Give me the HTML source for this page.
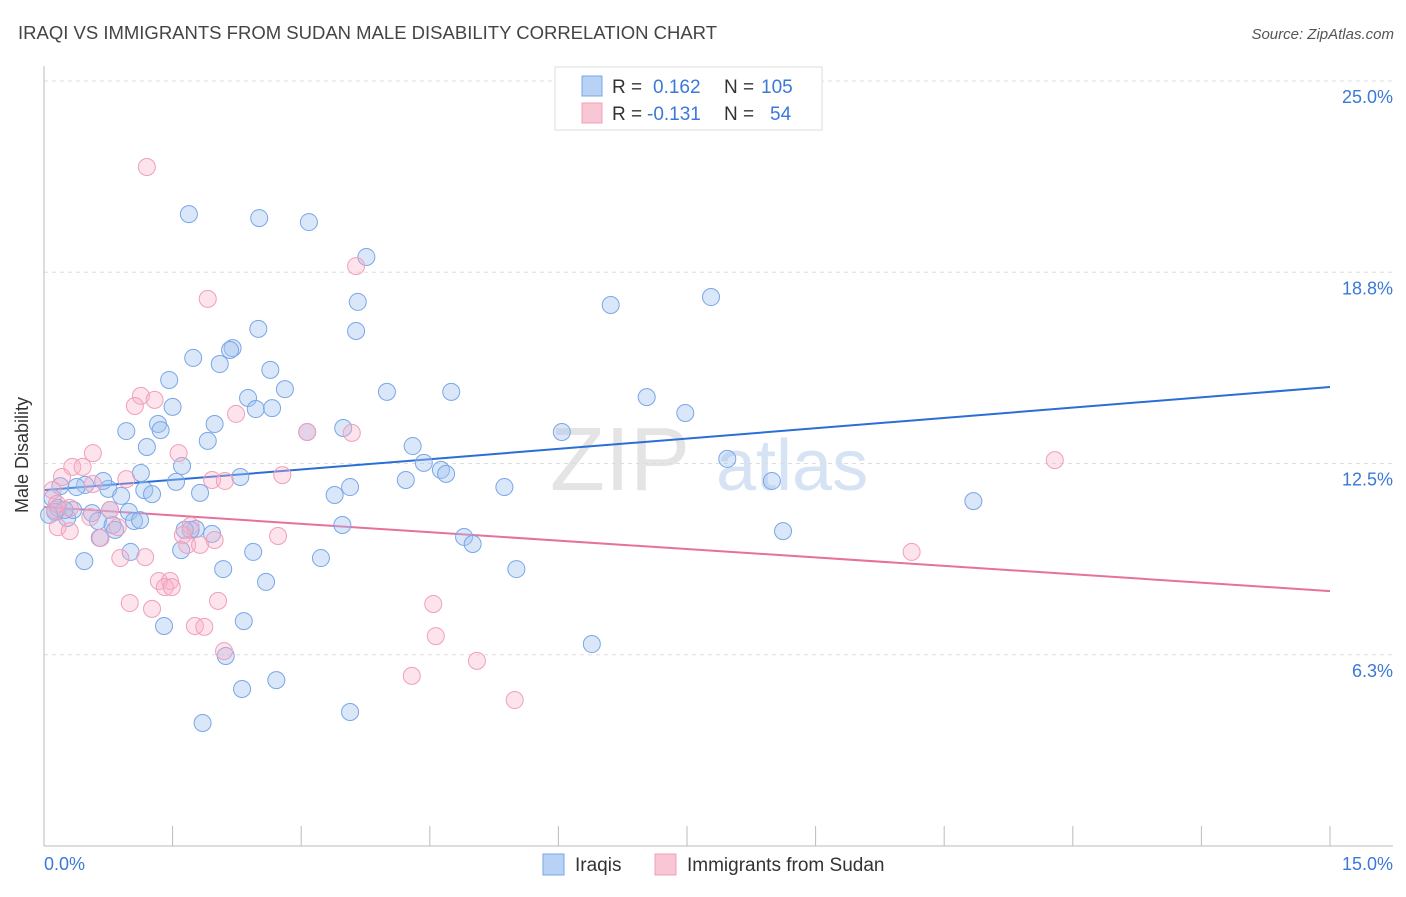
<!DOCTYPE html>
<html><head><meta charset="utf-8"><style>
body{margin:0;background:#fff;font-family:"Liberation Sans",sans-serif}
svg text{font-family:"Liberation Sans",sans-serif}
</style></head><body>
<svg id="chart" width="1406" height="892" xmlns="http://www.w3.org/2000/svg">
<text x="18" y="39" font-size="18.5" fill="#444">IRAQI VS IMMIGRANTS FROM SUDAN MALE DISABILITY CORRELATION CHART</text>
<text x="1394" y="39" font-size="15" fill="#555" font-style="italic" text-anchor="end">Source: ZipAtlas.com</text>
<text x="28" y="455" font-size="18" fill="#333" text-anchor="middle" transform="rotate(-90 28 455)">Male Disability</text>
<g><text x="550" y="490" font-size="90" fill="#e4e4e4" font-family="Liberation Serif">ZIP</text><text x="716" y="490" font-size="72" fill="#d6e3f5">atlas</text></g>
<g id="grid"></g><g id="axes"></g><g id="lines"></g><g id="pts"></g>
<g>
<rect x="555" y="67" width="267" height="63" fill="#fff" stroke="#ddd"/>
<rect x="582" y="76" width="20" height="20" fill="#b8d2f5" stroke="#7aa6e8"/>
<rect x="582" y="103" width="20" height="20" fill="#f9c6d5" stroke="#f0a0b8"/>
<text x="612" y="93" font-size="19" fill="#333">R = </text><text x="653" y="93" font-size="19" fill="#3b78d8">0.162</text><text x="724" y="93" font-size="19" fill="#333">N = </text><text x="761" y="93" font-size="19" fill="#3b78d8">105</text>
<text x="612" y="120" font-size="19" fill="#333">R = </text><text x="647" y="120" font-size="19" fill="#3b78d8">-0.131</text><text x="724" y="120" font-size="19" fill="#333">N = </text><text x="770" y="120" font-size="19" fill="#3b78d8">54</text>
</g>
<g>
<rect x="543" y="854" width="21" height="21" fill="#b8d2f5" stroke="#7aa6e8"/>
<text x="575" y="871" font-size="19" fill="#333">Iraqis</text>
<rect x="655" y="854" width="21" height="21" fill="#f9c6d5" stroke="#f0a0b8"/>
<text x="687" y="871" font-size="19" fill="#333">Immigrants from Sudan</text>
</g>
</svg>
<script>
const yTicks=[6.25,12.5,18.75,25];
const yTickLabels=["6.3%","12.5%","18.8%","25.0%"];
const xTickLabels=["0.0%","15.0%"];
const blueX=[1.69,2.51,3.09,3.76,3.66,3.64,2.50,2.20,2.17,1.74,2.05,1.46,2.64,2.81,2.38,2.47,2.66,1.50,1.99,1.33,1.36,0.96,1.20,1.91,4.00,4.75,3.49,3.07,4.30,4.43,4.63,4.69,4.22,5.37,3.57,3.39,6.04,7.03,7.48,6.61,7.78,7.97,8.49,8.62,10.84,1.61,1.13,1.54,1.82,2.29,1.17,1.26,0.75,0.90,0.48,0.19,0.38,0.69,0.10,0.16,0.27,0.34,0.56,0.63,0.80,0.99,1.05,0.83,0.65,1.01,0.47,3.48,1.96,1.77,1.71,1.64,1.60,2.44,2.09,2.59,3.23,4.90,5.00,5.51,1.40,2.33,6.39,2.12,2.71,2.31,3.57,1.85,0.77,1.12,0.24,0.13,0.06];
const blueY=[20.65,20.52,20.39,19.25,17.78,16.83,16.90,16.27,16.21,15.95,15.75,15.23,15.56,14.93,14.64,14.28,14.31,14.35,13.79,13.79,13.59,13.56,13.04,13.24,14.84,14.84,13.66,13.53,13.07,12.52,12.29,12.16,11.96,11.73,11.73,11.47,13.53,14.67,14.15,17.68,17.94,12.65,11.93,10.29,11.27,12.42,12.19,11.90,11.54,12.06,11.63,11.50,11.67,11.44,11.80,11.76,11.73,11.93,11.37,11.05,10.72,10.98,10.88,10.62,10.49,10.92,10.62,10.33,10.07,9.61,9.31,10.49,10.20,10.36,10.33,10.33,9.67,9.61,9.05,8.63,9.41,10.10,9.87,9.05,7.19,7.35,6.60,6.21,5.42,5.13,4.38,4.02,10.98,10.65,10.98,10.92,10.82];
const pinkX=[1.20,3.64,1.91,1.13,1.29,1.06,2.24,3.07,3.59,0.57,1.57,0.33,0.45,0.21,0.96,1.96,2.11,2.78,0.57,0.10,0.13,0.30,0.77,0.54,0.16,0.30,0.86,1.71,1.62,1.99,2.73,0.66,1.67,1.82,0.89,1.18,1.34,1.47,1.41,1.49,1.00,1.26,2.03,1.76,1.87,4.54,4.57,2.10,5.05,4.29,5.49,11.79,10.12,0.15];
const pinkY=[22.19,18.95,17.88,14.71,14.58,14.38,14.12,13.53,13.50,12.84,12.84,12.39,12.39,12.06,11.99,11.96,11.93,12.12,11.83,11.63,10.98,11.05,10.98,10.75,10.42,10.29,10.42,10.46,10.16,10.00,10.13,10.07,9.84,9.84,9.41,9.44,8.66,8.66,8.46,8.46,7.94,7.75,8.01,7.19,7.16,7.91,6.86,6.37,6.05,5.56,4.77,12.61,9.61,11.18];
const blueTrend=[11.63,15.0];
const pinkTrend=[11.08,8.33];
const NS="http://www.w3.org/2000/svg";
const X0=44,X1=1330,Y0=846,Y1=81;
const sx=v=>X0+(v/15)*(X1-X0);
const sy=v=>Y0-(v/25)*(Y0-Y1);
function mk(tag,attrs,parent){const e=document.createElementNS(NS,tag);for(const k in attrs)e.setAttribute(k,attrs[k]);parent.appendChild(e);return e;}
const grid=document.getElementById('grid'),axes=document.getElementById('axes'),lines=document.getElementById('lines'),pts=document.getElementById('pts');
yTicks.forEach((t,i)=>{
 const l=mk('line',{x1:X0,x2:1393,y1:sy(t),y2:sy(t),stroke:'#ddd','stroke-dasharray':'4,4'},grid);
 
 
 const tx=mk('text',{x:1393,y:sy(t)+22,'font-size':18,fill:'#3b78d8','text-anchor':'end'},axes);
 tx.textContent=yTickLabels[i];
 
 
});
const ya=mk('line',{x1:X0,x2:X0,y1:66,y2:Y0,stroke:'#bbb'},axes);


const xa=mk('line',{x1:X0,x2:1393,y1:Y0,y2:Y0,stroke:'#bbb'},axes);


for(let i=0;i<=10;i++){const t=mk('line',{x1:sx(i*1.5),x2:sx(i*1.5),y1:Y0-20,y2:Y0,stroke:'#bbb'},axes);
 
 }
[[0,'start',X0],[15,'end',1393]].forEach((d,i)=>{const t=mk('text',{x:d[2],y:870,'font-size':18,fill:'#3b78d8','text-anchor':d[1]},axes);t.textContent=xTickLabels[i];
 
 });
function dots(xs,ys,fill,stroke,name){xs.forEach((x,i)=>{const c=mk('circle',{cx:sx(x),cy:sy(ys[i]),r:8.5,fill:fill,stroke:stroke,'stroke-width':1},pts);
 
 });}
dots(blueX,blueY,'rgba(160,196,240,0.4)','#7aa6e8','point-iraqis');
dots(pinkX,pinkY,'rgba(248,176,200,0.35)','#f0a0b8','point-sudan');
const bl=mk('line',{x1:sx(0),y1:sy(blueTrend[0]),x2:sx(15),y2:sy(blueTrend[1]),stroke:'#2a6fd6','stroke-width':2},lines);


const pl=mk('line',{x1:sx(0),y1:sy(pinkTrend[0]),x2:sx(15),y2:sy(pinkTrend[1]),stroke:'#e8709c','stroke-width':2},lines);


</script>
</body></html>
